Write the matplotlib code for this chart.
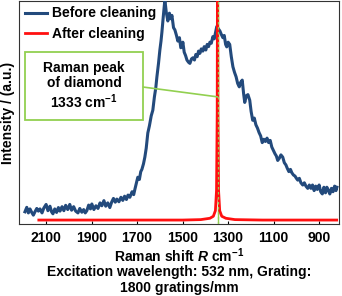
import matplotlib
matplotlib.use("Agg")
import matplotlib.pyplot as plt
from matplotlib.patches import Rectangle

plt.rcParams['font.family'] = ['Liberation Sans', 'DejaVu Sans']
plt.rcParams['font.weight'] = 'bold'
plt.rcParams['mathtext.fontset'] = 'custom'
plt.rcParams['mathtext.rm'] = 'Liberation Sans:bold'
plt.rcParams['mathtext.bf'] = 'Liberation Sans:bold'
plt.rcParams['mathtext.it'] = 'Liberation Sans:bold:italic'

# before cleaning (raman shift cm-1 vs intensity a.u.)
before_x = [2193, 2185, 2178, 2171, 2163, 2156, 2149, 2141, 2134, 2127,
            2118, 2110, 2100, 2092, 2083, 2076, 2070, 2062, 2054, 2046,
            2039, 2030, 2022, 2014, 2005, 1996, 1988, 1979, 1970, 1960,
            1952, 1943, 1935, 1928, 1921, 1913, 1905, 1899, 1890, 1881,
            1872, 1863, 1855, 1846, 1838, 1829, 1820, 1812, 1804, 1796,
            1789, 1780, 1771, 1763, 1755, 1747, 1740, 1732, 1722, 1715,
            1710, 1704, 1697, 1690, 1684, 1679, 1672, 1666, 1660, 1653,
            1646, 1638, 1631, 1624, 1618, 1613, 1606, 1600, 1595, 1591,
            1585, 1578, 1572, 1565, 1558, 1552, 1547, 1540, 1534, 1527,
            1521, 1514, 1508, 1503, 1499, 1493, 1487, 1481, 1474, 1468,
            1461, 1455, 1448, 1442, 1436, 1430, 1424, 1418, 1411, 1405,
            1398, 1392, 1386, 1380, 1374, 1367, 1361, 1355, 1350, 1343,
            1336, 1330, 1323, 1317, 1311, 1306, 1300, 1293, 1286, 1279,
            1272, 1265, 1258, 1251, 1245, 1238, 1232, 1227, 1220, 1213,
            1205, 1199, 1192, 1185, 1178, 1171, 1164, 1157, 1150, 1143,
            1136, 1129, 1122, 1115, 1108, 1101, 1094, 1088, 1082, 1075,
            1068, 1060, 1053, 1046, 1040, 1033, 1026, 1020, 1013, 1006,
            1000, 994, 987, 980, 972, 965, 958, 950, 943, 936,
            929, 922, 915, 908, 900, 893, 886, 879, 872, 866,
            859, 853, 846, 839, 832, 826, 822]
before_y = [5.5, 7.5, 5.0, 6.8, 5.2, 4.0, 5.5, 7.0, 5.8, 6.8,
            5.0, 7.2, 8.8, 6.0, 8.0, 5.5, 4.6, 6.8, 5.2, 7.4,
            5.8, 7.8, 6.0, 8.4, 6.5, 8.8, 6.2, 7.8, 5.8, 5.0,
            7.0, 5.3, 6.5, 5.0, 6.0, 8.5, 6.8, 9.0, 6.5, 8.2,
            7.0, 9.5, 8.2, 10.5, 8.0, 9.5, 7.4, 9.8, 11.5, 9.8,
            11.2, 10.0, 12.0, 10.6, 12.5, 11.0, 13.0, 12.0, 14.5, 13.2,
            15.5, 18.0, 21.0, 20.0, 23.5, 24.5, 27.0, 30.0, 34.0, 40.8,
            44.0, 48.5, 51.0, 57.0, 61.0, 66.0, 72.0, 78.0, 82.0, 86.0,
            93.0, 100.5, 95.0, 91.0, 94.5, 92.0, 93.5, 88.0, 87.0, 84.5,
            82.0, 83.5, 79.0, 79.4, 81.5, 77.0, 75.5, 73.5, 72.5, 72.0,
            74.0, 74.5, 73.5, 76.0, 75.0, 77.5, 76.5, 78.5, 77.5, 79.5,
            78.0, 80.5, 79.5, 81.5, 81.0, 84.0, 83.0, 86.0, 88.5, 87.5,
            86.5, 85.0, 83.5, 84.5, 80.5, 79.4, 81.5, 80.5, 75.0, 70.5,
            68.0, 66.0, 63.0, 61.5, 63.5, 64.5, 58.5, 54.5, 57.5, 58.0,
            55.5, 50.5, 46.5, 47.5, 44.5, 43.0, 41.0, 39.5, 36.5, 38.0,
            37.0, 38.5, 36.5, 37.5, 34.5, 33.0, 31.5, 30.5, 28.5, 29.5,
            31.0, 30.0, 27.5, 26.5, 25.0, 23.5, 24.5, 23.0, 22.0, 21.5,
            20.5, 19.7, 20.5, 18.5, 17.5, 18.5, 17.0, 16.0, 17.5, 16.0,
            17.5, 15.0, 17.0, 15.5, 17.5, 14.5, 13.5, 16.5, 14.0, 16.5,
            15.0, 13.5, 16.0, 14.5, 17.0, 15.0, 16.5]

# after cleaning: flat baseline with the diamond peak
after_x = [2132, 1500, 1420, 1380, 1365, 1356, 1351, 1348, 1346.5,
           1345, 1342, 1337, 1328, 1310, 1270, 1150, 823]
after_y = [1.8, 1.8, 2.0, 2.6, 3.5, 6.0, 15.0, 50.0, 130.0,
           50.0, 15.0, 6.0, 3.5, 2.6, 2.0, 1.8, 1.8]

peak_pos = 1346.5
x_ticks = [2100, 1900, 1700, 1500, 1300, 1100, 900]

BLUE = '#234a7c'
RED = '#ff1010'
GREEN = '#92d050'

fig = plt.figure(figsize=(3.42, 2.96), dpi=100)
ax = fig.add_axes([0.057, 0.243, 0.934, 0.754])

ax.plot(before_x, before_y, color=BLUE, lw=2.2, label='Before cleaning', zorder=3)
ax.plot(after_x, after_y, color=RED, lw=2.0, label='After cleaning', zorder=4)
ax.axvline(peak_pos, color=GREEN, lw=1.0, zorder=2)
ax.axvline(peak_pos, color=GREEN, lw=0.9, ls=(0, (2, 2)), zorder=5)

ax.set_xlim(2217, 813)
ax.set_ylim(0, 100)
ax.set_xticks(x_ticks)
ax.set_xticklabels([str(t) for t in x_ticks], fontsize=10, fontweight='bold')
ax.set_yticks([])
ax.tick_params(axis='x', direction='in', length=2.5, width=0.8, pad=5)
for s in ax.spines.values():
    s.set_linewidth(0.8)
    s.set_color('#333333')

ax.set_ylabel('Intensity / (a.u.)', fontsize=10, fontweight='bold', labelpad=3)
ax.set_xlabel('Raman shift $R$ cm$^{-1}$', fontsize=10, fontweight='bold', labelpad=1)
fig.text(0.525, 0.055, 'Excitation wavelength: 532 nm, Grating:\n1800 gratings/mm',
         ha='center', va='center', fontsize=10, fontweight='bold', linespacing=1.15)

ax.legend(loc='upper left', frameon=False, fontsize=10, handlelength=1.6,
          handletextpad=0.35, borderaxespad=0.1, labelspacing=0.45,
          borderpad=0.3)

box = Rectangle((0.017, 0.466), 0.37, 0.305, transform=ax.transAxes,
                fill=True, facecolor='white', edgecolor=GREEN, lw=1.3, zorder=6)
ax.add_patch(box)
ax.text(0.202, 0.618, 'Raman peak\nof diamond\n1333 cm$^{-1}$', transform=ax.transAxes,
        ha='center', va='center', fontsize=10, fontweight='bold', linespacing=1.15, zorder=7)
ax.annotate('', xy=(peak_pos, 57), xycoords='data', xytext=(0.387, 0.614),
            textcoords='axes fraction',
            arrowprops=dict(arrowstyle='-', color=GREEN, lw=1.2, shrinkA=0, shrinkB=0),
            zorder=6)

fig.savefig('out.png', dpi=100)
